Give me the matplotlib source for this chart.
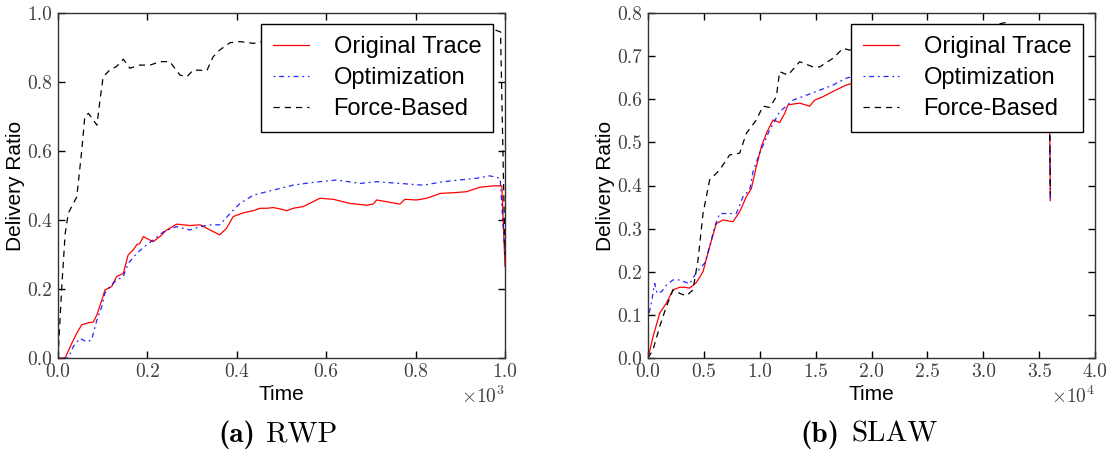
import matplotlib
matplotlib.use("Agg")
import matplotlib.pyplot as plt
from matplotlib.ticker import MultipleLocator, FuncFormatter

plt.rcParams["mathtext.fontset"] = "cm"
plt.rcParams["font.family"] = ["Liberation Sans", "DejaVu Sans"]

# ---------------- RWP (time in seconds) ----------------
rwp_orig_t = [0, 16, 31, 42, 53, 68, 79, 87, 98, 105, 120, 131, 146, 157, 168, 176,
              183, 191, 198, 213, 228, 243, 266, 295, 318, 340, 362, 377, 392, 415,
              437, 452, 467, 482, 497, 512, 526, 549, 586, 616, 653, 691, 705, 713,
              735, 765, 776, 802, 825, 855, 884, 914, 944, 974, 993, 1000]
rwp_orig_v = [0, 0, .043, .072, .096, .102, .104, .125, .168, .197, .207, .236, .245,
              .299, .313, .328, .332, .352, .347, .337, .352, .371, .388, .384, .386,
              .371, .357, .376, .41, .421, .427, .434, .434, .436, .432, .427, .434,
              .439, .463, .46, .448, .443, .446, .458, .453, .446, .46, .458, .463,
              .477, .479, .482, .495, .499, .499, .265]

rwp_opt_t = [0, 23, 34, 49, 64, 75, 87, 98, 105, 116, 131, 146, 157, 176, 198, 213,
             236, 266, 295, 318, 340, 362, 385, 407, 437, 467, 489, 526, 564, 623,
             676, 713, 765, 817, 862, 899, 937, 966, 989, 1000]
rwp_opt_v = [0, 0, .033, .057, .047, .052, .11, .149, .188, .207, .226, .236, .274,
             .303, .328, .342, .366, .381, .371, .381, .386, .386, .419, .448, .472,
             .482, .489, .501, .508, .516, .506, .511, .506, .501, .511, .516, .521,
             .528, .521, .30]

rwp_force_t = [0, 8, 16, 23, 42, 53, 60, 68, 79, 87, 94, 101, 116, 131, 146, 161,
               183, 206, 228, 250, 273, 288, 303, 333, 347, 362, 385, 407, 437, 470,
               520, 570, 620, 670, 720, 770, 820, 870, 920, 970, 990, 1000]
rwp_force_v = [0, .197, .36, .42, .467, .60, .70, .709, .69, .675, .748, .815, .835,
               .845, .866, .84, .849, .849, .859, .859, .82, .815, .835, .833, .873,
               .893, .914, .917, .912, .92, .93, .935, .94, .94, .945, .94, .945, .95,
               .95, .955, .945, .30]

# ---------------- SLAW (time in seconds) ----------------
slaw_orig_t = [0, 447, 1047, 1640, 2237, 2833, 3280, 3727, 4325, 4922, 5517, 6114,
               6711, 7606, 8203, 8800, 9248, 9695, 10142, 10590, 11186, 11783, 12230,
               12528, 13572, 14467, 14914, 15660, 16555, 17748, 19500, 21500, 23500,
               25500, 27500, 29500, 31500, 33500, 35000, 35900, 36000]
slaw_orig_v = [0, .049, .104, .127, .158, .164, .164, .162, .175, .200, .258, .312,
               .32, .316, .339, .374, .393, .444, .49, .521, .552, .546, .567, .587,
               .591, .584, .598, .606, .618, .633, .645, .655, .66, .665, .67, .675,
               .68, .685, .688, .69, .365]

slaw_opt_t = [0, 298, 600, 805, 1226, 1640, 2237, 2833, 3727, 4325, 5070, 5517, 5965,
              6413, 7308, 7904, 8501, 9097, 9396, 9993, 10888, 11783, 12976, 14766,
              16555, 17748, 19500, 21500, 23500, 25500, 27500, 29500, 31500, 33500,
              35000, 35900, 36000]
slaw_opt_v = [.092, .127, .173, .15, .154, .169, .181, .181, .172, .198, .22, .258,
              .304, .335, .335, .335, .374, .39, .432, .475, .529, .571, .598, .615,
              .633, .649, .66, .67, .675, .68, .685, .69, .695, .70, .705, .705, .37]

slaw_force_t = [0, 447, 1047, 1640, 2237, 2833, 3430, 4027, 4474, 4922, 5517, 6413,
                7308, 8203, 8800, 9695, 10292, 10888, 11485, 11783, 12528, 13572,
                14766, 15362, 16555, 17450, 18046, 20000, 22000, 24000, 26000, 28000,
                30000, 31500, 32000, 32500, 34000, 35900, 36000]
slaw_force_v = [0, .019, .073, .119, .158, .15, .144, .158, .227, .335, .413, .436,
                .471, .475, .521, .552, .584, .581, .606, .664, .656, .687, .675, .675,
                .695, .718, .714, .725, .735, .74, .745, .75, .76, .775, .778, .772,
                .765, .765, .38]

series_labels = ["Original Trace", "Optimization", "Force-Based"]
caption_tags = ["(a)", "(b)"]
caption_names = ["RWP", "SLAW"]

W, H = 1117, 453
fig = plt.figure(figsize=(W / 100, H / 100), dpi=100)
ax_l = fig.add_axes([58 / W, 95 / H, 447 / W, 345 / H])
ax_r = fig.add_axes([648 / W, 95 / H, 447 / W, 345 / H])

panels = [
    (ax_l, (rwp_orig_t, rwp_orig_v), (rwp_opt_t, rwp_opt_v), (rwp_force_t, rwp_force_v),
     1000, 200, 1e3, r"$\times10^{3}$", 1.0, 0.2),
    (ax_r, (slaw_orig_t, slaw_orig_v), (slaw_opt_t, slaw_opt_v), (slaw_force_t, slaw_force_v),
     40000, 5000, 1e4, r"$\times10^{4}$", 0.8, 0.1),
]

tick_color = "0.25"
for ax, orig, opt, force, xmax, xstep, scale, offs, ymax, ystep in panels:
    ax.plot(*orig, color="red", lw=0.9, ls="-", label=series_labels[0])
    ax.plot(*opt, color="blue", lw=0.9, ls=(0, (1.5, 3, 4, 3)), alpha=0.85,
            label=series_labels[1])
    ax.plot(*force, color="black", lw=0.9, ls=(0, (5, 4)), label=series_labels[2])
    ax.set_xlim(0, xmax)
    ax.set_ylim(0, ymax)
    ax.xaxis.set_major_locator(MultipleLocator(xstep))
    ax.yaxis.set_major_locator(MultipleLocator(ystep))
    ax.xaxis.set_major_formatter(FuncFormatter(lambda v, _, s=scale: f"{v / s:.1f}"))
    ax.yaxis.set_major_formatter(FuncFormatter(lambda v, _: f"{v:.1f}"))
    ax.tick_params(direction="in", top=True, right=True, length=5, width=1,
                   labelsize=14, labelcolor=tick_color, pad=4)
    for lab in ax.get_xticklabels() + ax.get_yticklabels():
        lab.set_fontfamily("cmr10")
    for sp in ax.spines.values():
        sp.set_color("0.2")
        sp.set_linewidth(1.0)
    ax.set_xlabel("Time", fontsize=15)
    ax.xaxis.set_label_coords(0.5, -0.079)
    ax.set_ylabel("Delivery Ratio", fontsize=15)
    ax.yaxis.set_label_coords(-0.073, 0.5)
    ax.text(1.0, -0.08, offs, transform=ax.transAxes, ha="right", va="top",
            fontsize=14, color=tick_color)
    leg = ax.legend(loc="upper right", bbox_to_anchor=(0.973, 0.968),
                    borderaxespad=0, fontsize=17, fancybox=False, framealpha=1,
                    edgecolor="black", handlelength=1.5, handletextpad=1.05,
                    borderpad=0.5, labelspacing=0.38)
    leg.get_frame().set_linewidth(1.0)

# sub-figure captions: bold tag followed by roman name
cap_y = 1 - 442 / H
for tag_right, name_left, tag, name in [(255, 266, caption_tags[0], caption_names[0]),
                                         (839, 851, caption_tags[1], caption_names[1])]:
    fig.text(tag_right / W, cap_y, tag, ha="right", va="baseline", fontsize=21,
             family="cmb10")
    fig.text(name_left / W, cap_y, name, ha="left", va="baseline", fontsize=21,
             family="cmr10")

fig.savefig("out.png", dpi=100)
